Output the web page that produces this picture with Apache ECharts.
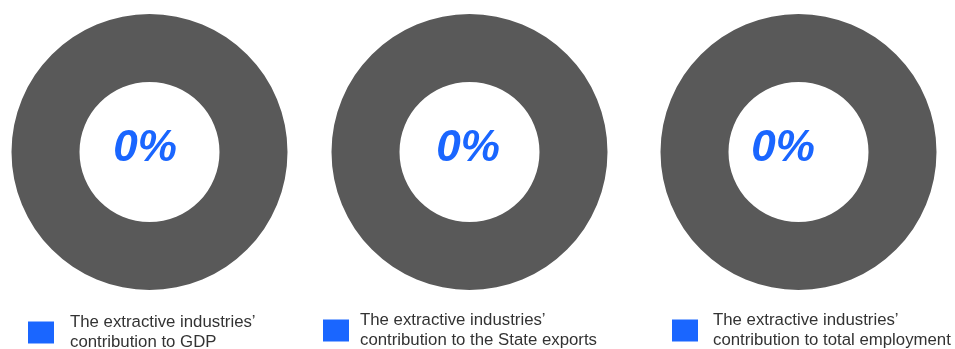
<!DOCTYPE html>
<html>
<head>
<meta charset="utf-8">
<script src="https://cdn.jsdelivr.net/npm/echarts@6/dist/echarts.min.js"></script>
<style>
html, body { margin: 0; padding: 0; background: #fff; }
#chart { width: 955px; height: 349px; }
</style>
</head>
<body>
<div id="chart"></div>
<script>
// share of the extractive industries (percent), one donut each
var labels = [
    'The extractive industries\u2019\ncontribution to GDP',
    'The extractive industries\u2019\ncontribution to the State exports',
    'The extractive industries\u2019\ncontribution to total employment'
];
var shares = [0, 0, 0];
var restName = 'Other';

var centersX = [149.5, 469.5, 798.5];   // donut centres
var labelX = [145, 468, 783];           // "0%" position
var legendX = [28, 323, 672];
var legendTop = [313, 311, 311];
var legendGap = [11, 6, 10];

var myChart = echarts.init(document.getElementById('chart'));

var series = [], titles = [], legends = [];
for (var i = 0; i < labels.length; i++) {
    series.push({
        type: 'pie',
        radius: [70, 138],
        center: [centersX[i], 152],
        silent: true,
        label: { show: false },
        labelLine: { show: false },
        startAngle: 90,
        data: [
            { name: labels[i], value: shares[i], itemStyle: { color: '#1a66ff' } },
            { name: restName + i, value: 100 - shares[i], itemStyle: { color: '#595959' } }
        ]
    });
    titles.push({
        text: shares[i] + '%',
        left: labelX[i],
        top: 127,
        padding: 0,
        textAlign: 'center',
        textStyle: {
            color: '#1a66ff',
            fontSize: 44,
            fontWeight: 'bold',
            fontStyle: 'italic',
            fontFamily: 'Liberation Sans'
        }
    });
    legends.push({
        data: [labels[i]],
        left: legendX[i],
        top: legendTop[i],
        padding: 0,
        icon: 'rect',
        itemWidth: 26,
        itemHeight: 22,
        selectedMode: false,
        textStyle: {
            color: '#333333',
            fontSize: 16.8,
            fontFamily: 'Liberation Sans',
            lineHeight: 19.5,
            padding: [0, 0, 0, legendGap[i]]
        }
    });
}

option = {
    animation: false,
    title: titles,
    legend: legends,
    series: series
};
myChart.setOption(option);
</script>
</body>
</html>
